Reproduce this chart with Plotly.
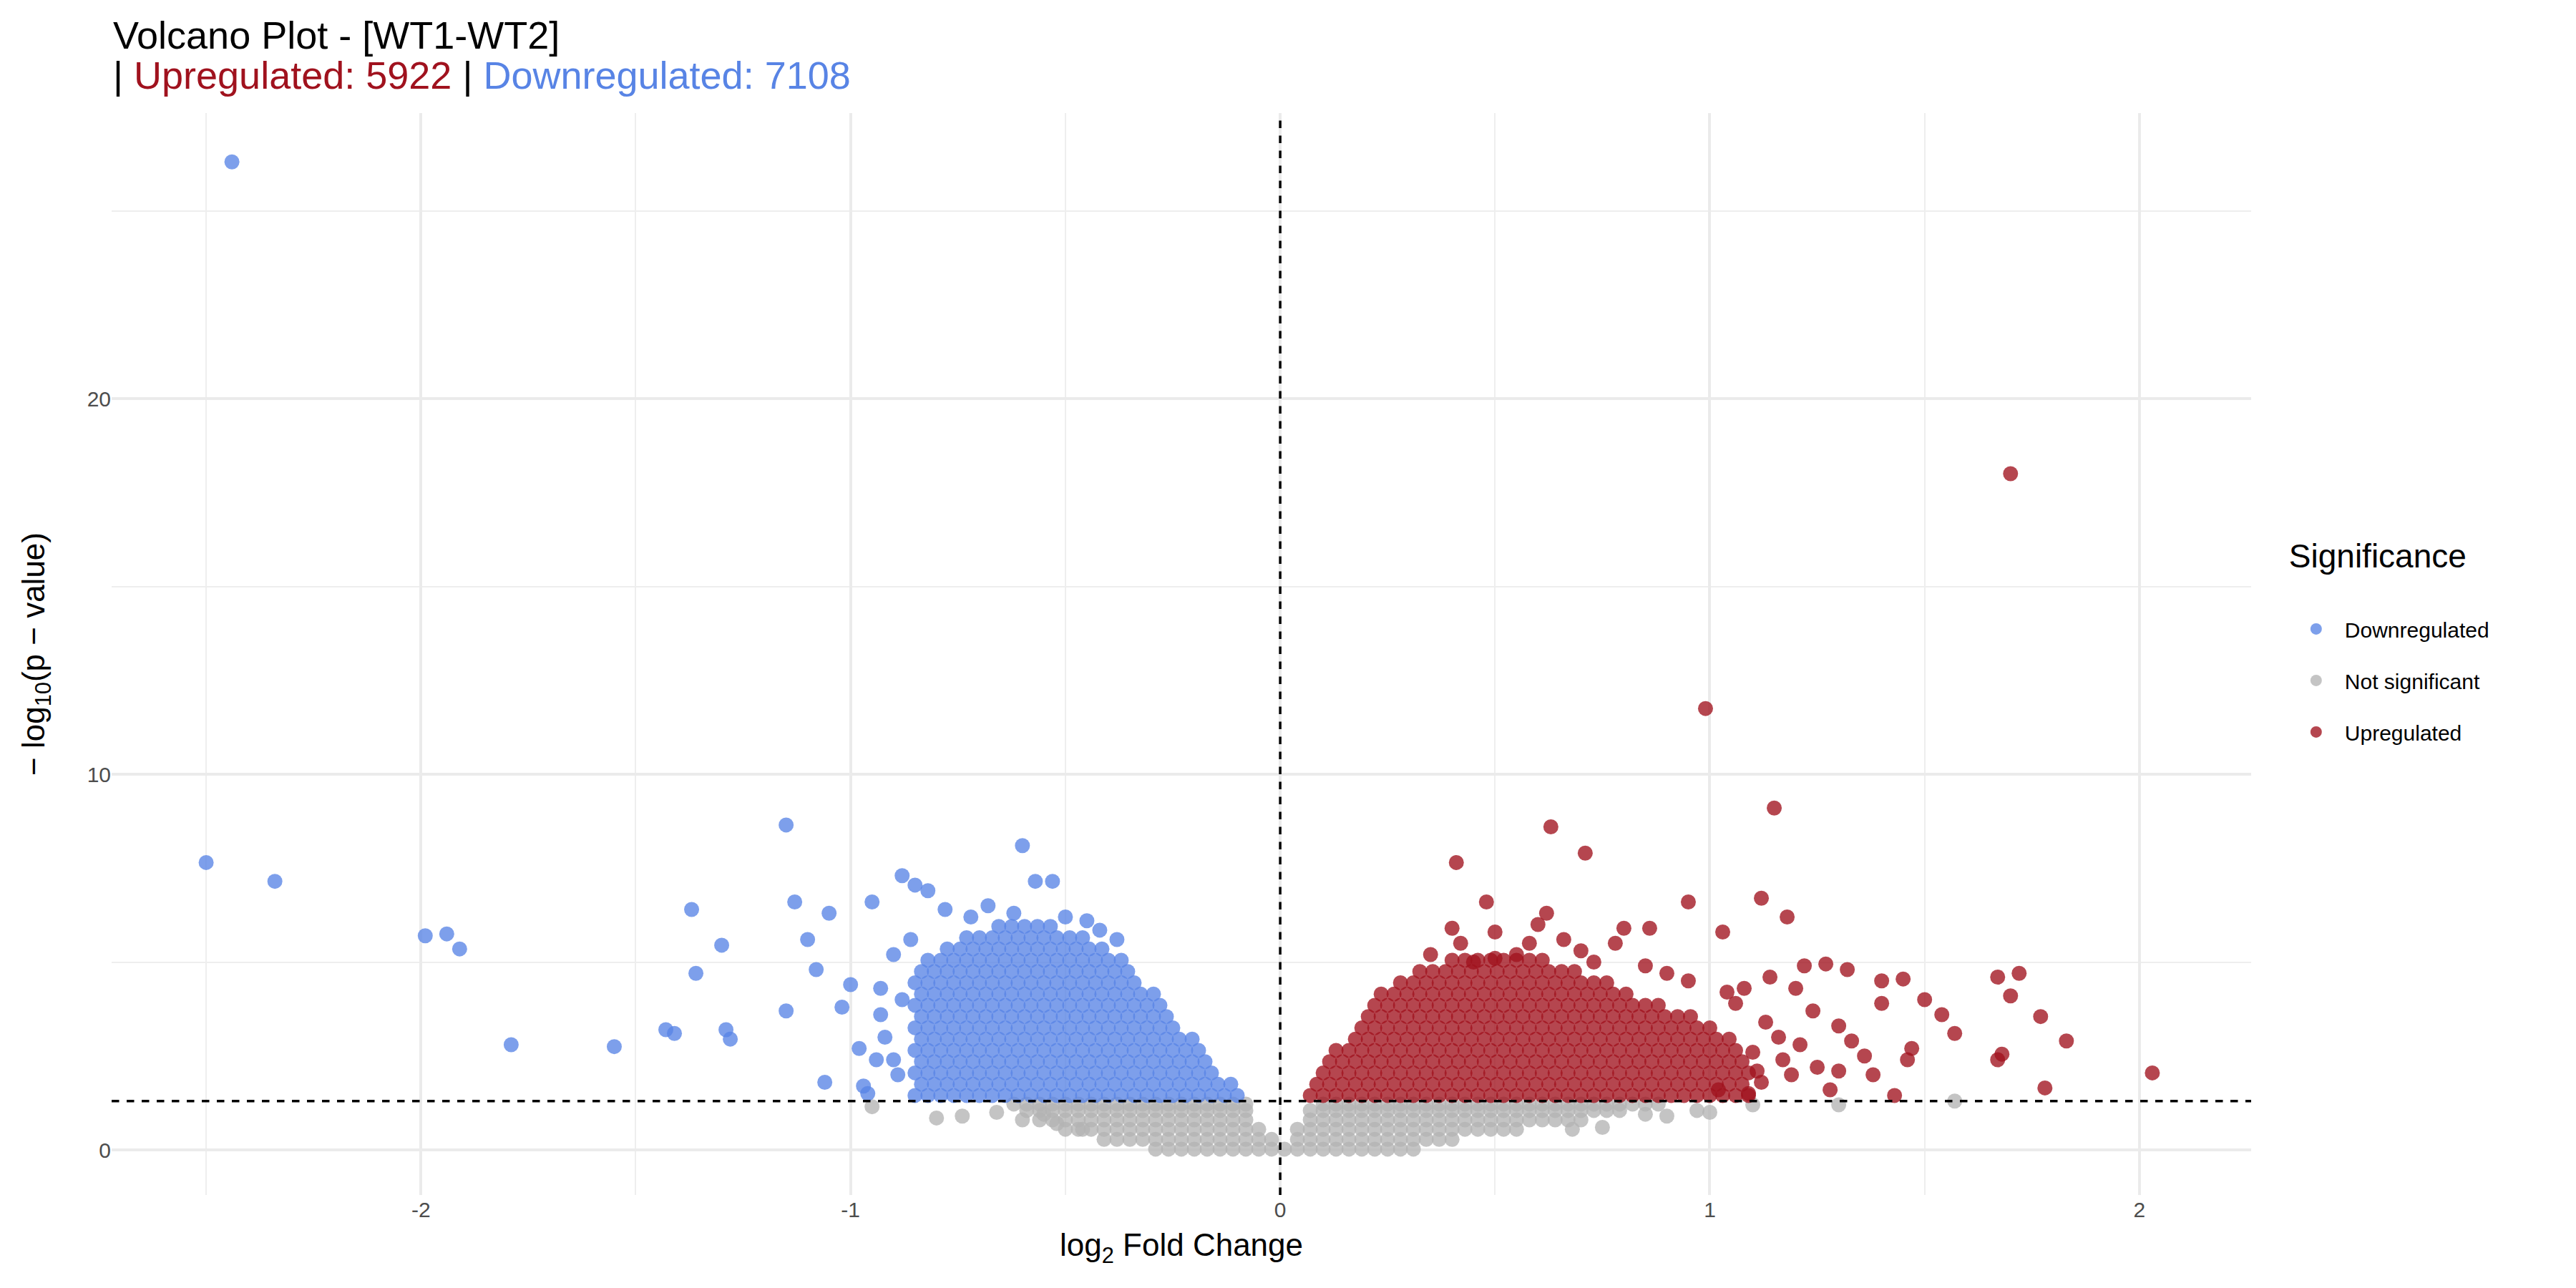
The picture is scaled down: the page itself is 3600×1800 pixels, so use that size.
import plotly.graph_objects as go

# ---------------- data ----------------
BA = [-0.85,-0.82,-0.79,-0.76,-0.73,-0.70,-0.67,-0.64,-0.61,-0.58,-0.55,-0.52,-0.49,-0.46,-0.43,-0.40,-0.37,-0.34,-0.31,-0.28,-0.25,-0.22,-0.19,-0.16,-0.13,-0.10]
BB = [-0.835,-0.805,-0.775,-0.745,-0.715,-0.685,-0.655,-0.625,-0.595,-0.565,-0.535,-0.505,-0.475,-0.445,-0.415,-0.385,-0.355,-0.325,-0.295,-0.265,-0.235,-0.205,-0.175,-0.145,-0.115]
RA = [0.07,0.10,0.13,0.16,0.19,0.22,0.25,0.28,0.31,0.34,0.37,0.40,0.43,0.46,0.49,0.52,0.55,0.58,0.61,0.64,0.67,0.70,0.73,0.76,0.79,0.82,0.85,0.88,0.91,0.94,0.97,1.00,1.03,1.06,1.09]
RB = [0.085,0.115,0.145,0.175,0.205,0.235,0.265,0.295,0.325,0.355,0.385,0.415,0.445,0.475,0.505,0.535,0.565,0.595,0.625,0.655,0.685,0.715,0.745,0.775,0.805,0.835,0.865,0.895,0.925,0.955,0.985,1.015,1.045,1.075]
GA = [-0.62,-0.59,-0.56,-0.53,-0.50,-0.47,-0.44,-0.41,-0.38,-0.35,-0.32,-0.29,-0.26,-0.23,-0.20,-0.17,-0.14,-0.11,-0.08,-0.05,-0.02,0.01,0.04,0.07,0.10,0.13,0.16,0.19,0.22,0.25,0.28,0.31,0.34,0.37,0.40,0.43,0.46,0.49,0.52,0.55,0.58,0.61,0.64,0.67,0.70,0.73,0.76,0.79,0.82,0.85,0.88]

# dense rows: (y value, x values lying in that row)
blue_rows = [
    (1.45, [x for x in BA if x <= -0.10]), (1.75, [x for x in BB if x <= -0.115]),
    (2.05, [x for x in BA if x <= -0.16]), (2.35, [x for x in BB if x <= -0.175]),
    (2.65, [x for x in BA if x <= -0.19]), (2.95, [x for x in BB if x <= -0.205]),
    (3.25, [x for x in BA if x <= -0.25]), (3.55, [x for x in BB if x <= -0.265]),
    (3.85, [x for x in BA if x <= -0.28]), (4.15, [x for x in BB if x <= -0.295]),
    (4.45, [x for x in BA if x <= -0.34]), (4.75, [x for x in BB if x <= -0.355]),
    (5.05, [x for x in BA if -0.82 <= x <= -0.37]), (5.35, [x for x in BB if -0.775 <= x <= -0.415]),
    (5.65, [x for x in BA if -0.73 <= x <= -0.46]), (5.95, [x for x in BB if -0.655 <= x <= -0.535]),
]
red_rows = [
    (1.45, [x for x in RA if x <= 1.09]), (1.75, [x for x in RB if x <= 1.075]),
    (2.05, [x for x in RA if 0.10 <= x <= 1.09]), (2.35, [x for x in RB if 0.115 <= x <= 1.075]),
    (2.65, [x for x in RA if 0.13 <= x <= 1.06]), (2.95, [x for x in RB if 0.175 <= x <= 1.045]),
    (3.25, [x for x in RA if 0.19 <= x <= 1.00]), (3.55, [x for x in RB if 0.205 <= x <= 0.955]),
    (3.85, [x for x in RA if 0.22 <= x <= 0.88]), (4.15, [x for x in RB if 0.235 <= x <= 0.805]),
    (4.45, [x for x in RA if 0.28 <= x <= 0.76]), (4.75, [x for x in RB if 0.325 <= x <= 0.685]),
    (5.05, [x for x in RA if 0.40 <= x <= 0.61]),
]
grey_rows = [
    (0.02, [x for x in GA if -0.29 <= x <= 0.31]),
    (0.28, [x for x in GA if -0.41 <= x <= 0.40 and abs(x) > 0.015]),
    (0.55, [x for x in GA if -0.50 <= x <= 0.55 and abs(x) > 0.035]),
    (0.80, [x for x in GA if -0.56 <= x <= 0.70 and abs(x) > 0.05]),
    (1.05, [x for x in GA if -0.59 <= x <= 0.79 and abs(x) > 0.06]),
    (1.22, [x for x in GA if -0.62 <= x <= 0.88 and abs(x) > 0.07]),
]

blue_extra_x = [-2.44,-2.50,-2.34,-1.99,-1.94,-1.91,-1.79,-1.55,-1.43,-1.41,-1.37,-1.36,-1.30,-1.29,-1.28,-1.15,-1.13,-1.15,-1.10,-1.08,-1.05,-1.02,-1.00,-0.98,-0.97,-0.95,-0.93,-0.92,-0.90,-0.88,-0.85,-0.82,-0.60,-0.57,-0.53,-0.42,-0.90,-0.88,-0.93,-0.96,-1.06,-0.78,-0.72,-0.68,-0.62,-0.50,-0.45,-0.38,-0.86,-0.89,-0.94]
blue_extra_y = [26.3,7.65,7.15,5.70,5.75,5.35,2.80,2.75,3.20,3.10,6.40,4.70,5.45,3.20,2.95,8.65,6.60,3.70,5.60,4.80,6.30,3.80,4.40,2.70,1.70,6.60,4.30,3.00,2.40,7.30,7.05,6.90,8.10,7.15,7.15,5.85,5.20,4.00,3.60,1.50,1.80,6.40,6.20,6.50,6.30,6.20,6.10,5.60,5.60,2.00,2.40]
red_extra_x = [1.70,0.99,1.15,0.63,0.71,0.41,1.12,1.18,0.95,0.86,1.03,1.27,1.32,1.40,1.45,1.50,1.54,1.57,1.67,1.72,1.70,1.77,1.83,1.67,1.68,2.03,1.78,1.43,1.38,1.47,1.46,1.36,1.30,1.24,1.20,1.16,1.10,1.06,1.25,1.33,1.19,1.12,1.40,1.22,1.08,1.14,1.04,1.02,1.28,1.30,
               0.45,0.50,0.55,0.62,0.60,0.48,0.50,0.40,0.42,0.35,0.70,0.78,0.80,0.66,0.58,0.73,0.85,0.90,0.95,1.13,1.21,1.17,1.09,1.11]
red_extra_y = [18.0,11.75,9.10,8.60,7.90,7.65,6.70,6.20,6.60,5.90,5.80,4.95,4.80,4.50,4.55,4.00,3.60,3.10,4.60,4.70,4.10,3.55,2.90,2.40,2.55,2.05,1.65,1.45,2.00,2.70,2.40,2.50,3.30,3.70,4.30,3.00,2.60,3.90,2.20,2.90,2.00,1.80,3.90,4.90,4.30,4.60,4.20,1.60,1.60,2.10,
               5.00,5.10,5.20,6.30,6.00,6.60,5.80,5.90,5.50,5.20,5.30,5.50,5.90,5.60,5.50,5.00,4.90,4.70,4.50,3.40,2.80,2.40,1.50,2.10]
grey_extra_x = [-0.95,-0.80,-0.74,-0.66,-0.60,-0.55,-0.52,-0.46,0.90,1.00,1.30,1.57,1.10,0.97,0.85,0.75,0.68]
grey_extra_y = [1.15,0.85,0.90,1.00,0.80,0.95,0.70,0.55,0.90,1.00,1.20,1.30,1.20,1.05,0.95,0.60,0.55]

title_main = "Volcano Plot - [WT1-WT2]"
n_up, n_down = 5922, 7108
x_ticks = [-2, -1, 0, 1, 2]
y_ticks = [0, 10, 20]
threshold_y = 1.3

BLUE, RED, GREY = "#5884E5", "#A0121E", "#B3B3B3"

def flatten(rows, ex, ey):
    xs, ys = [], []
    for y, row in rows:
        xs += row
        ys += [y] * len(row)
    return xs + ex, ys + ey

gx, gy = flatten(grey_rows, grey_extra_x, grey_extra_y)
bx, by = flatten(blue_rows, blue_extra_x, blue_extra_y)
rx, ry = flatten(red_rows, red_extra_x, red_extra_y)

fig = go.Figure()
msize = 21
for name, xs, ys, col, rank in [("Not significant", gx, gy, GREY, 2), ("Downregulated", bx, by, BLUE, 1), ("Upregulated", rx, ry, RED, 3)]:
    fig.add_trace(go.Scatter(x=xs, y=ys, mode="markers", name=name, legendrank=rank, legendgroup=name,
                             marker=dict(color=col, size=msize, opacity=0.78, line=dict(width=0))))

fig.add_hline(y=threshold_y, line=dict(color="black", width=3.5, dash="dash"))
fig.add_vline(x=0, line=dict(color="black", width=3.5, dash="dash"))

font = "Liberation Sans, Arial, sans-serif"
fig.add_annotation(text=title_main, xref="paper", yref="paper", x=-0.0, y=1.072, xanchor="left", yanchor="middle",
                   showarrow=False, font=dict(size=54, color="black", family=font))
fig.add_annotation(text=f"| <span style='color:{RED}'>Upregulated: {n_up}</span> | <span style='color:{BLUE}'>Downregulated: {n_down}</span>",
                   xref="paper", yref="paper", x=-0.0, y=1.035, xanchor="left", yanchor="middle",
                   showarrow=False, font=dict(size=54, color="black", family=font))
fig.update_layout(
    width=3600, height=1800,
    paper_bgcolor="white", plot_bgcolor="white",
    margin=dict(l=148, r=462, t=150, b=138),
    font=dict(family=font, color="#222222"),
    legend=dict(
        title=dict(text="Significance<br>", font=dict(size=46, color="black")),
        font=dict(size=30, color="black"), x=1.017, xanchor="left", y=0.515, yanchor="middle",
        itemsizing="trace", itemwidth=70, tracegroupgap=30, traceorder="grouped"),
    xaxis=dict(range=[-2.72, 2.26], tickvals=x_ticks, ticktext=[str(v) for v in x_ticks],
               showgrid=True, gridcolor="#EBEBEB", gridwidth=4, zeroline=False, showline=False,
               ticks="", tickfont=dict(size=30, color="#4D4D4D"),
               minor=dict(dtick=0.5, tick0=0.5, showgrid=True, gridcolor="#EEEEEE", gridwidth=2),
               title=dict(text="log<sub>2</sub> Fold Change", font=dict(size=44, color="black"), standoff=18)),
    yaxis=dict(range=[-1.2, 27.6], tickvals=y_ticks, ticktext=[str(v) for v in y_ticks],
               showgrid=True, gridcolor="#EBEBEB", gridwidth=4, zeroline=False, showline=False,
               ticks="", tickfont=dict(size=30, color="#4D4D4D"),
               minor=dict(dtick=5, tick0=5, showgrid=True, gridcolor="#EEEEEE", gridwidth=2),
               title=dict(text="− log<sub>10</sub>(p − value)", font=dict(size=44, color="black"), standoff=45)),
)
fig.write_html("out.html")
